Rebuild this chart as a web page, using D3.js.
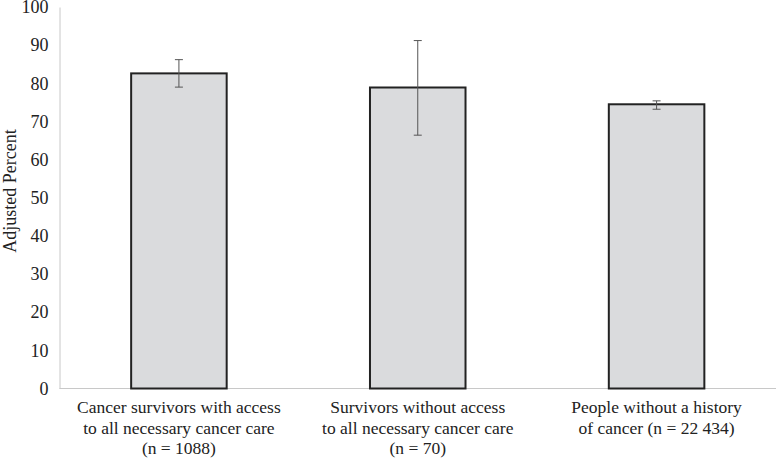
<!DOCTYPE html>
<html><head><meta charset="utf-8">
<script src="https://cdn.jsdelivr.net/npm/d3@7"></script>
</head><body style="margin:0;background:#fff"><svg id="c" width="776" height="460" font-family="Liberation Serif"></svg>
<script>
const categories = [
  ["Cancer survivors with access","to all necessary cancer care","(n = 1088)"],
  ["Survivors without access","to all necessary cancer care","(n = 70)"],
  ["People without a history","of cancer (n = 22 434)"]
];
const values = [82.6, 78.9, 74.5];
const errLow = [79.0, 66.4, 73.2];
const errHigh = [86.2, 91.2, 75.4];
const yTicks = [0,10,20,30,40,50,60,70,80,90,100];

const FONT = "Liberation Serif";
const svg = d3.select("#c");
const x0 = 59.5, x1 = 776, yb = 388.5, yt = 7;
const x = d3.scaleBand().domain(d3.range(categories.length)).range([x0, x1]).paddingInner(0.6).paddingOuter(0.3);
const y = d3.scaleLinear().domain([0,100]).range([yb, yt]);

const yAxis = d3.axisLeft(y).tickValues(yTicks).tickSize(0).tickPadding(11);
const gy = svg.append("g").attr("transform",`translate(${x0},0)`).call(yAxis);
gy.attr("font-family", FONT).attr("font-size", 18);
gy.select(".domain").attr("stroke","#c8c8c8");
gy.selectAll("text").attr("font-family",FONT).style("font-family",`"${FONT}"`).attr("font-size",18).style("font-size","18px").attr("fill","#222");

svg.append("line").attr("x1",x0).attr("x2",x1).attr("y1",yb).attr("y2",yb).attr("stroke","#c8c8c8");

svg.append("text").attr("transform",`translate(16,191) rotate(-90)`).attr("text-anchor","middle")
  .attr("font-family",FONT).style("font-family",`"${FONT}"`).attr("font-size",18).style("font-size","18px").attr("fill","#222").text("Adjusted Percent");

svg.selectAll("rect.bar").data(values).join("rect").attr("class","bar")
  .attr("x",(d,i)=>x(i)).attr("width",x.bandwidth())
  .attr("y",d=>y(d)).attr("height",d=>yb-y(d))
  .attr("fill","#dadbdd").attr("stroke","#222").attr("stroke-width",2);

const eb = svg.append("g").attr("stroke","#555").attr("stroke-width",1);
values.forEach((v,i)=>{
  const cx = x(i)+x.bandwidth()/2;
  eb.append("line").attr("x1",cx).attr("x2",cx).attr("y1",y(errLow[i])).attr("y2",y(errHigh[i]));
  [errLow[i],errHigh[i]].forEach(e=>eb.append("line").attr("x1",cx-4).attr("x2",cx+4).attr("y1",y(e)).attr("y2",y(e)));
});

categories.forEach((lines,i)=>{
  const cx = x(i)+x.bandwidth()/2;
  const t = svg.append("text").attr("text-anchor","middle")
    .attr("font-family",FONT).style("font-family",`"${FONT}"`).attr("font-size",17.5).style("font-size","17.5px").attr("fill","#222");
  lines.forEach((l,j)=>t.append("tspan").attr("x",cx).attr("y",413+j*20.5).text(l));
});
</script></body></html>
